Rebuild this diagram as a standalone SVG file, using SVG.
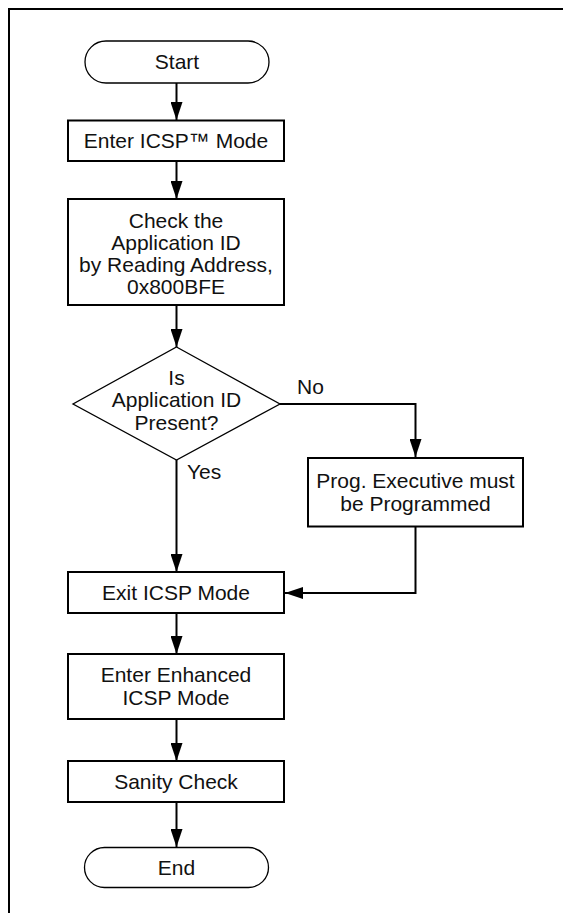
<svg xmlns="http://www.w3.org/2000/svg" width="571" height="913" viewBox="0 0 571 913">
<style>
text{font-family:"Liberation Sans",Arial,sans-serif;font-size:21px;fill:#111;text-anchor:middle}
.lbl{text-anchor:start}
.box{fill:#fff;stroke:#000;stroke-width:2}
.term{fill:#fff;stroke:#000;stroke-width:1.3}
.con{fill:none;stroke:#000;stroke-width:2}
.frame{fill:none;stroke:#000;stroke-width:2}
</style>
<defs>
<marker id="ah" markerUnits="userSpaceOnUse" markerWidth="18" markerHeight="12" refX="18" refY="6" orient="auto">
<path d="M0,0 L18,6 L0,12 z" fill="#000"/>
</marker>
</defs>
<path class="frame" d="M9,913 V9 H563"/>
<g id="connectors">
<line class="con" x1="176.5" y1="83" x2="176.5" y2="120" marker-end="url(#ah)"/>
<line class="con" x1="176.5" y1="161" x2="176.5" y2="199" marker-end="url(#ah)"/>
<line class="con" x1="176.5" y1="305" x2="176.5" y2="347" marker-end="url(#ah)"/>
<path class="con" d="M280,404 H415.5 V457" marker-end="url(#ah)"/>
<line class="con" x1="176.5" y1="460" x2="176.5" y2="572" marker-end="url(#ah)"/>
<path class="con" d="M415.5,527 V593 H285" marker-end="url(#ah)"/>
<line class="con" x1="176.5" y1="613" x2="176.5" y2="654" marker-end="url(#ah)"/>
<line class="con" x1="176.5" y1="719" x2="176.5" y2="761" marker-end="url(#ah)"/>
<line class="con" x1="176.5" y1="802" x2="176.5" y2="847" marker-end="url(#ah)"/>
<text class="lbl" x="297" y="394">No</text>
<text class="lbl" x="187" y="479">Yes</text>
</g>
<g id="start">
<rect class="term" x="85" y="41" width="184" height="42" rx="21"/>
<text x="177" y="69">Start</text>
</g>
<g id="enter-icsp">
<rect class="box" x="68" y="120.5" width="216" height="40.5"/>
<text x="176" y="148">Enter ICSP™ Mode</text>
</g>
<g id="check-app-id">
<rect class="box" x="68" y="199" width="216" height="106"/>
<text x="176" y="228">Check the</text>
<text x="176" y="250">Application ID</text>
<text x="176" y="272">by Reading Address,</text>
<text x="176" y="294">0x800BFE</text>
</g>
<g id="decision">
<polygon class="term" points="176.5,347 280,404 176.5,460 73,404"/>
<text x="176.5" y="385">Is</text>
<text x="176.5" y="407">Application ID</text>
<text x="176.5" y="430">Present?</text>
</g>
<g id="prog-exec">
<rect class="box" x="308" y="458" width="215" height="68.5"/>
<text x="415.5" y="488">Prog. Executive must</text>
<text x="415.5" y="511">be Programmed</text>
</g>
<g id="exit-icsp">
<rect class="box" x="68" y="572" width="216" height="41"/>
<text x="176" y="600">Exit ICSP Mode</text>
</g>
<g id="enter-enhanced">
<rect class="box" x="68" y="654" width="216" height="65"/>
<text x="176" y="682">Enter Enhanced</text>
<text x="176" y="705">ICSP Mode</text>
</g>
<g id="sanity">
<rect class="box" x="68" y="761" width="216" height="41"/>
<text x="176" y="789">Sanity Check</text>
</g>
<g id="end">
<rect class="term" x="84.5" y="847.5" width="184" height="40" rx="20"/>
<text x="176.5" y="875">End</text>
</g>
</svg>
